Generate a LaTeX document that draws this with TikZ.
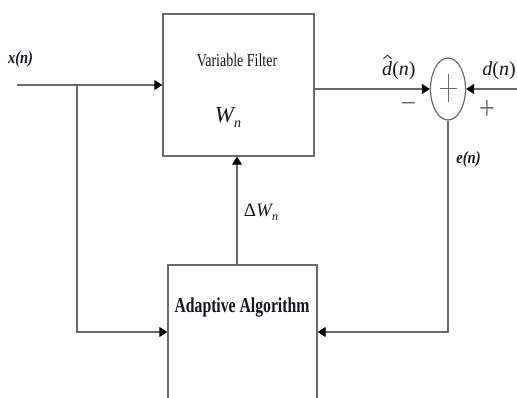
\documentclass[tikz,border=0pt]{standalone}
\usepackage{fontspec}
\setmainfont{Liberation Serif}
\usetikzlibrary{arrows.meta,shapes.geometric}
\definecolor{linegray}{HTML}{6A6A6A}
\definecolor{txt}{HTML}{151520}
\tikzset{
  blockbox/.style={draw=linegray,line width=1.4pt,rectangle,inner sep=0pt},
  sumnode/.style={draw=linegray,line width=1.2pt,ellipse,inner sep=0pt,minimum width=35pt,minimum height=62pt},
  wire/.style={draw=linegray,line width=1.4pt},
  sigarrow/.style={wire,-{Triangle[length=8pt,width=10pt,color=black]}},
  lbl/.style={text=txt,inner sep=0pt},
}
\begin{document}
\begin{tikzpicture}[x=1pt,y=-1pt]
\useasboundingbox (0,0) rectangle (517,397);
% blocks
\node[blockbox,minimum width=151pt,minimum height=142pt] (filt) at (238.5,85) {};
\node[blockbox,minimum width=149pt,minimum height=134pt] (adapt) at (242.5,332) {};
\node[sumnode] (sum) at (448,89) {};
% plus inside summing junction
\draw[draw=linegray,line width=1pt] (440,88) -- (457,88);
\draw[draw=linegray,line width=1pt] (448,74) -- (448,102);
% coordinates
\coordinate (xin) at (17,85);
\coordinate (br) at (77,85);
\coordinate (din) at (517,89);
\coordinate (dw) at (237,0);
% connectors
\draw[sigarrow] (xin) -- (filt.west |- xin);
\draw[sigarrow] (filt.east |- sum.west) -- (sum.west);
\draw[sigarrow] (din) -- (sum.east);
\draw[sigarrow] (br) |- (adapt.west);
\draw[sigarrow] (sum.south) |- (adapt.east);
\draw[sigarrow] (adapt.north -| dw) -- (filt.south -| dw);
% labels
\node[lbl] (lx) at (20.5,59) {\scalebox{1}[1.2]{\fontsize{14.5}{15}\selectfont\bfseries\itshape x(n)}};
\node[lbl] (lvf) at (237,60) {\scalebox{1}[1.3]{\fontsize{14}{14}\selectfont Variable Filter}};
\node[lbl] (lw) at (228,117) {\fontsize{23}{23}\selectfont\itshape W\raisebox{-5pt}{\fontsize{14}{14}\selectfont n}};
\node[lbl,anchor=west] (ldh) at (382,71) {\fontsize{20}{20}\selectfont\textit{d}(\textit{n})};
\draw[draw=txt,line width=0.8pt] ([xshift=1.5pt,yshift=3pt]ldh.north west) -- ([xshift=5.5pt,yshift=6.5pt]ldh.north west) -- ([xshift=9.5pt,yshift=3pt]ldh.north west);
\node[lbl] (ld) at (499,71) {\fontsize{20}{20}\selectfont\textit{d}(\textit{n})};
\node[lbl,text=linegray] (lminus) at (408.5,107) {\fontsize{28}{28}\selectfont −};
\node[lbl,text=linegray] (lplus) at (487,110) {\scalebox{1}[1.2]{\fontsize{28}{28}\selectfont +}};
\node[lbl] (le) at (468.5,159) {\scalebox{1}[1.2]{\fontsize{14.5}{15}\selectfont\bfseries\itshape e(n)}};
\node[lbl] (ldw) at (261,212) {\fontsize{19}{19}\selectfont Δ\itshape W\raisebox{-4pt}{\fontsize{12}{12}\selectfont n}};
\node[lbl] (lad) at (242,307) {\scalebox{1}[1.35]{\fontsize{15.7}{16}\selectfont\bfseries Adaptive Algorithm}};
\end{tikzpicture}
\end{document}
